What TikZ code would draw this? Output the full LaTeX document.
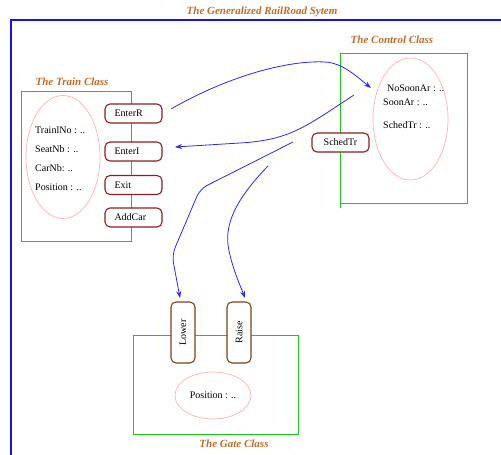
\documentclass[tikz,border=0pt]{standalone}
\usepackage{fontspec}
\setmainfont{Liberation Serif}
\usetikzlibrary{shapes.geometric,arrows.meta}
\definecolor{frameblue}{RGB}{20,20,235}
\definecolor{arrowblue}{RGB}{40,40,250}
\definecolor{classgreen}{RGB}{20,205,20}
\definecolor{softpink}{RGB}{255,175,175}
\definecolor{opred}{RGB}{140,30,30}
\definecolor{opbrown}{RGB}{130,65,20}
\definecolor{titleorange}{RGB}{190,110,40}
\tikzset{
  title/.style={font=\bfseries\itshape\fontsize{11}{13}\selectfont, text=titleorange, inner sep=0pt},
  classbox/.style={draw=classgreen, line width=1.4pt},
  attr/.style={draw=softpink, line width=0.7pt, ellipse, inner sep=0pt},
  attrtext/.style={font=\fontsize{10}{12}\selectfont, anchor=west, inner sep=0pt},
  opbox/.style={draw=opred, line width=1.1pt, fill=white, rounded corners=5pt,
    minimum width=57pt, minimum height=19pt, inner sep=0pt, font=\fontsize{10}{12}\selectfont},
  gatebox/.style={draw=opbrown, line width=1.1pt, fill=white, rounded corners=5pt,
    minimum width=61pt, minimum height=24pt, inner sep=0pt, rotate=90, font=\fontsize{10}{12}\selectfont},
  msg/.style={draw=arrowblue, line width=0.8pt, -{Stealth[length=7pt,width=5pt]}},
}
\begin{document}
\begin{tikzpicture}[x=1pt,y=-1pt]
\useasboundingbox (0,0) rectangle (501,455);
% class boxes
\draw[classbox] (21.5,91.5) rectangle (131.5,241.5);
\draw[classbox] (340.5,53.5) rectangle (467.5,203.5);
\draw[classbox] (340.5,203.5) -- (340.5,207.5);
\draw[classbox] (133.5,335.5) rectangle (298.5,434.5);
% outer frame
\draw[frameblue, line width=1.8pt] (11,470) -- (11,20) -- (515,20);
\node[title] (systitle) at (262,12) {The Generalized RailRoad Sytem};

% Train class
\node[title] (traintitle) at (72,82) {The Train Class};
\node[attr, minimum width=74pt, minimum height=123pt] (trainattr) at (63,157) {};
\node[attrtext] (t1) at (35,130) {TrainlNo : ..};
\node[attrtext] (t2) at (35,149) {SeatNb : ..};
\node[attrtext] (t3) at (35,168) {CarNb: ..};
\node[attrtext] (t4) at (35,187) {Position : ..};
\node[opbox, text width=38pt, align=left] (enterR) at (133.5,113.5) {EnterR};
\node[opbox, text width=38pt, align=left] (enterI) at (133.5,151.5) {EnterI};
\node[opbox, text width=38pt, align=left] (exit) at (133.5,185) {Exit};
\node[opbox, text width=38pt, align=left] (addcar) at (133.5,217.5) {AddCar};

% Control class
\node[title] (ctrltitle) at (392,40) {The Control Class};
\node[attr, minimum width=75pt, minimum height=122pt] (ctrlattr) at (410.5,119) {};
\node[attrtext] (c1) at (387,88) {NoSoonAr : ..};
\node[attrtext] (c2) at (383,102) {SoonAr : ..};
\node[attrtext] (c3) at (383,125) {SchedTr : ..};
\node[opbox] (schedtr) at (340.5,142.5) {SchedTr};

% Gate class
\node[title] (gatetitle) at (234,444) {The Gate Class};
\node[gatebox] (lower) at (183,332.5) {Lower};
\node[gatebox] (raise) at (239,332.5) {Raise};
\node[attr, minimum width=76pt, minimum height=47pt] (gateattr) at (213,395.5) {Position : ..};

% messages
\coordinate (m1s) at (171,109);
\coordinate (m1e) at (371,88);
\coordinate (m2s) at (354,95);
\coordinate (m2e) at (175,147);
\coordinate (m3s) at (293,142);
\coordinate (m3e) at (180,298);
\coordinate (m4s) at (268,166);
\coordinate (m4e) at (245,298);
\draw[msg] (m1s) .. controls (230,75) and (290,60) .. (325,62) .. controls (342,63) and (355,75) .. (m1e);
\draw[msg] (m2s) .. controls (305,127) and (290,140) .. (240,143) -- (m2e);
\draw[msg, rounded corners=8pt] (m3s) -- (200,189) -- (172,255) -- (m3e);
\draw[msg] (m4s) .. controls (240,195) and (225,220) .. (228,245) .. controls (231,265) and (240,285) .. (m4e);
\end{tikzpicture}
\end{document}
